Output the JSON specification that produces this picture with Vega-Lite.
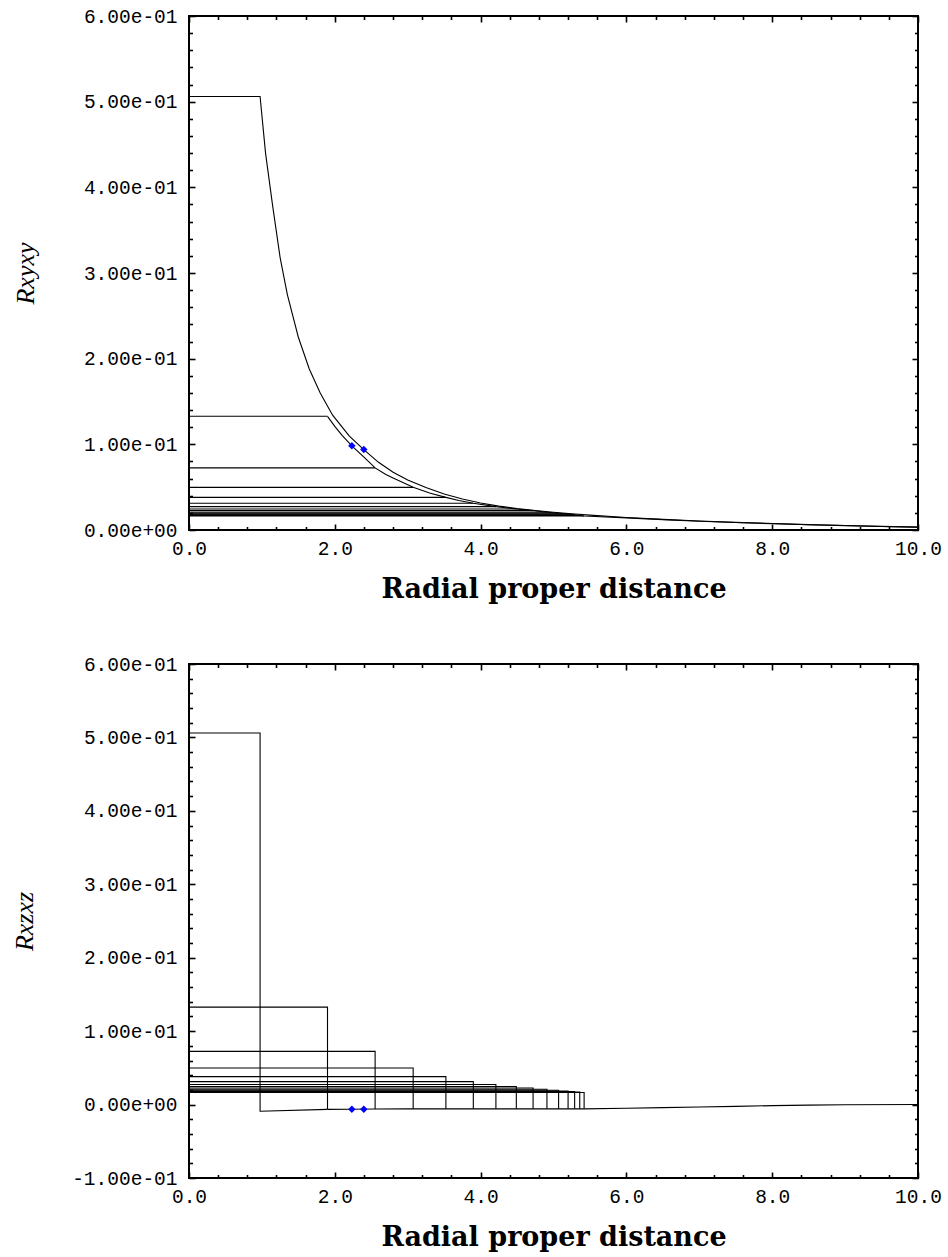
{
  "$schema": "https://vega.github.io/schema/vega-lite/v6.json",
  "background": "white",
  "padding": {"left": 10, "top": 5, "right": 5, "bottom": 5},
  "spacing": 50,
  "config": {
    "view": {"stroke": "black", "strokeWidth": 2},
    "axis": {"domain": false, "grid": false, "labelFont": "Liberation Mono", "labelFontSize": 19.5, "labelColor": "black", "labelFlush": false, "labelOverlap": false, "tickColor": "black", "tickWidth": 1.6, "titleColor": "black", "titleFont": "DejaVu Serif", "titleFontSize": 27, "titleFontWeight": "bold"},
    "axisY": {"titleFont": "Liberation Serif", "titleFontStyle": "italic", "titleFontWeight": "normal", "titleFontSize": 26}
  },
  "datasets": {
    "top": [
      {"s":"c1","x":0,"y":0.506},{"s":"c1","x":0.975,"y":0.506},{"s":"c1","x":1.05,"y":0.44},{"s":"c1","x":1.148,"y":0.378},{"s":"c1","x":1.25,"y":0.318},{"s":"c1","x":1.35,"y":0.2745},{"s":"c1","x":1.5,"y":0.225},{"s":"c1","x":1.65,"y":0.188},{"s":"c1","x":1.8,"y":0.16},{"s":"c1","x":1.97,"y":0.134},{"s":"c1","x":2.2,"y":0.1096},{"s":"c1","x":2.398,"y":0.0939},{"s":"c1","x":2.6,"y":0.079},{"s":"c1","x":2.8,"y":0.0675},{"s":"c1","x":3,"y":0.0585},{"s":"c1","x":3.25,"y":0.0495},{"s":"c1","x":3.5,"y":0.042},{"s":"c1","x":3.75,"y":0.0362},{"s":"c1","x":4,"y":0.0316},{"s":"c1","x":4.25,"y":0.0279},{"s":"c1","x":4.5,"y":0.025},{"s":"c1","x":4.75,"y":0.0228},{"s":"c1","x":5,"y":0.0208},{"s":"c1","x":5.25,"y":0.019},{"s":"c1","x":5.5,"y":0.0174},{"s":"c1","x":6,"y":0.0146},{"s":"c1","x":6.5,"y":0.0124},{"s":"c1","x":7,"y":0.0105},{"s":"c1","x":7.5,"y":0.0089},{"s":"c1","x":8,"y":0.0075},{"s":"c1","x":8.5,"y":0.0063},{"s":"c1","x":9,"y":0.0052},{"s":"c1","x":9.5,"y":0.0042},{"s":"c1","x":10,"y":0.0034},
      {"s":"c2","x":0,"y":0.1327},{"s":"c2","x":1.9,"y":0.1327},
      {"s":"c3","x":0,"y":0.0725},{"s":"c3","x":2.553,"y":0.0725},
      {"s":"c4","x":0,"y":0.0498},{"s":"c4","x":3.075,"y":0.0498},
      {"s":"c5","x":0,"y":0.0381},{"s":"c5","x":3.524,"y":0.0381},
      {"s":"c6","x":0,"y":0.0312},{"s":"c6","x":3.9,"y":0.0312},
      {"s":"c7","x":0,"y":0.0273},{"s":"c7","x":4.21,"y":0.0273},
      {"s":"c8","x":0,"y":0.0246},{"s":"c8","x":4.49,"y":0.0246},
      {"s":"c9","x":0,"y":0.0226},{"s":"c9","x":4.72,"y":0.0226},
      {"s":"c10","x":0,"y":0.0208},{"s":"c10","x":4.91,"y":0.0208},
      {"s":"c11","x":0,"y":0.0195},{"s":"c11","x":5.07,"y":0.0195},
      {"s":"c12","x":0,"y":0.0185},{"s":"c12","x":5.2,"y":0.0185},
      {"s":"c13","x":0,"y":0.0177},{"s":"c13","x":5.29,"y":0.0177},
      {"s":"c14","x":0,"y":0.017},{"s":"c14","x":5.36,"y":0.017},
      {"s":"c15","x":0,"y":0.0164},{"s":"c15","x":5.42,"y":0.0164},
      {"s":"h","x":1.9,"y":0.1327},{"s":"h","x":2,"y":0.121},{"s":"h","x":2.1,"y":0.1105},{"s":"h","x":2.234,"y":0.0983},{"s":"h","x":2.4,"y":0.085},{"s":"h","x":2.553,"y":0.0725},{"s":"h","x":2.7,"y":0.0648},{"s":"h","x":2.8,"y":0.0606},{"s":"h","x":3.075,"y":0.0498},{"s":"h","x":3.3,"y":0.0432},{"s":"h","x":3.524,"y":0.0381},{"s":"h","x":3.7,"y":0.0345},{"s":"h","x":3.9,"y":0.0312},{"s":"h","x":4.21,"y":0.0273},{"s":"h","x":4.49,"y":0.0246},{"s":"h","x":4.72,"y":0.0226},{"s":"h","x":4.91,"y":0.0208},{"s":"h","x":5.07,"y":0.0195},{"s":"h","x":5.2,"y":0.0185},{"s":"h","x":5.29,"y":0.0177},{"s":"h","x":5.36,"y":0.017},{"s":"h","x":5.42,"y":0.0164},{"s":"h","x":5.5,"y":0.016},{"s":"h","x":6,"y":0.0141},{"s":"h","x":6.5,"y":0.0121},{"s":"h","x":7,"y":0.0103},{"s":"h","x":7.5,"y":0.0088},{"s":"h","x":8,"y":0.0074},{"s":"h","x":8.5,"y":0.0062},{"s":"h","x":9,"y":0.0051},{"s":"h","x":9.5,"y":0.0041},{"s":"h","x":10,"y":0.0034}
    ],
    "topDots": [{"x":2.234,"y":0.0983},{"x":2.398,"y":0.0939}],
    "bottom": [
      {"s":"c1","i":0,"x":0,"y":0.506},{"s":"c1","i":1,"x":0.975,"y":0.506},{"s":"c1","i":2,"x":0.975,"y":-0.009},{"s":"c1","i":3,"x":1.9,"y":-0.0065},
      {"s":"c2","i":0,"x":0,"y":0.1327},{"s":"c2","i":1,"x":1.9,"y":0.1327},{"s":"c2","i":2,"x":1.9,"y":-0.0065},
      {"s":"c3","i":0,"x":0,"y":0.0725},{"s":"c3","i":1,"x":2.553,"y":0.0725},{"s":"c3","i":2,"x":2.553,"y":-0.006},
      {"s":"c4","i":0,"x":0,"y":0.0498},{"s":"c4","i":1,"x":3.075,"y":0.0498},{"s":"c4","i":2,"x":3.075,"y":-0.0059},
      {"s":"c5","i":0,"x":0,"y":0.0381},{"s":"c5","i":1,"x":3.524,"y":0.0381},{"s":"c5","i":2,"x":3.524,"y":-0.0059},
      {"s":"c6","i":0,"x":0,"y":0.0312},{"s":"c6","i":1,"x":3.9,"y":0.0312},{"s":"c6","i":2,"x":3.9,"y":-0.0058},
      {"s":"c7","i":0,"x":0,"y":0.0273},{"s":"c7","i":1,"x":4.21,"y":0.0273},{"s":"c7","i":2,"x":4.21,"y":-0.0058},
      {"s":"c8","i":0,"x":0,"y":0.0246},{"s":"c8","i":1,"x":4.49,"y":0.0246},{"s":"c8","i":2,"x":4.49,"y":-0.0058},
      {"s":"c9","i":0,"x":0,"y":0.0226},{"s":"c9","i":1,"x":4.72,"y":0.0226},{"s":"c9","i":2,"x":4.72,"y":-0.0058},
      {"s":"c10","i":0,"x":0,"y":0.0208},{"s":"c10","i":1,"x":4.91,"y":0.0208},{"s":"c10","i":2,"x":4.91,"y":-0.0058},
      {"s":"c11","i":0,"x":0,"y":0.0195},{"s":"c11","i":1,"x":5.07,"y":0.0195},{"s":"c11","i":2,"x":5.07,"y":-0.0058},
      {"s":"c12","i":0,"x":0,"y":0.0185},{"s":"c12","i":1,"x":5.2,"y":0.0185},{"s":"c12","i":2,"x":5.2,"y":-0.0058},
      {"s":"c13","i":0,"x":0,"y":0.0177},{"s":"c13","i":1,"x":5.29,"y":0.0177},{"s":"c13","i":2,"x":5.29,"y":-0.0058},
      {"s":"c14","i":0,"x":0,"y":0.017},{"s":"c14","i":1,"x":5.36,"y":0.017},{"s":"c14","i":2,"x":5.36,"y":-0.0058},
      {"s":"c15","i":0,"x":0,"y":0.0164},{"s":"c15","i":1,"x":5.42,"y":0.0164},{"s":"c15","i":2,"x":5.42,"y":-0.0058},
      {"s":"g","i":0,"x":1.9,"y":-0.0065},{"s":"g","i":1,"x":2.2,"y":-0.0063},{"s":"g","i":2,"x":2.553,"y":-0.006},{"s":"g","i":3,"x":3,"y":-0.0059},{"s":"g","i":4,"x":4,"y":-0.0058},{"s":"g","i":5,"x":5,"y":-0.0058},{"s":"g","i":6,"x":5.42,"y":-0.0058},{"s":"g","i":7,"x":6,"y":-0.005},{"s":"g","i":8,"x":6.5,"y":-0.0042},{"s":"g","i":9,"x":7,"y":-0.0033},{"s":"g","i":10,"x":7.5,"y":-0.0024},{"s":"g","i":11,"x":8,"y":-0.0015},{"s":"g","i":12,"x":8.5,"y":-0.0007},{"s":"g","i":13,"x":9,"y":-0.0003},{"s":"g","i":14,"x":10,"y":0}
    ],
    "bottomDots": [{"x":2.234,"y":-0.0063},{"x":2.398,"y":-0.0063}]
  },
  "vconcat": [
    {
      "width": 729, "height": 514,
      "layer": [
        {
          "data": {"name": "top"},
          "mark": {"type": "line", "color": "black", "strokeWidth": 1.1, "clip": true},
          "encoding": {
            "x": {"field": "x", "type": "quantitative", "scale": {"domain": [0, 10], "nice": false, "zero": false},
              "axis": {"orient": "bottom", "values": [0,0.4,0.8,1.2,1.6,2,2.4,2.8,3.2,3.6,4,4.4,4.8,5.2,5.6,6,6.4,6.8,7.2,7.6,8,8.4,8.8,9.2,9.6,10],
                "labelExpr": "abs(datum.value/2 - round(datum.value/2)) < 1e-6 ? format(datum.value, '.1f') : ''",
                "tickSize": {"condition": {"test": "abs(datum.value/2 - round(datum.value/2)) < 1e-6", "value": -6}, "value": -3.5},
                "labelPadding": 15, "title": "Radial proper distance", "titlePadding": 16}},
            "y": {"field": "y", "type": "quantitative", "scale": {"domain": [0, 0.6], "nice": false, "zero": false},
              "axis": {"orient": "left", "values": [0,0.02,0.04,0.06,0.08,0.1,0.12,0.14,0.16,0.18,0.2,0.22,0.24,0.26,0.28,0.3,0.32,0.34,0.36,0.38,0.4,0.42,0.44,0.46,0.48,0.5,0.52,0.54,0.56,0.58,0.6],
                "labelExpr": "abs(datum.value*10 - round(datum.value*10)) < 1e-6 ? (abs(datum.value) < 1e-9 ? '0.00e+00' : (datum.value < 0 ? '-' : '') + format(abs(datum.value)*10, '.2f') + 'e-01') : ''",
                "tickSize": {"condition": {"test": "abs(datum.value*10 - round(datum.value*10)) < 1e-6", "value": -6}, "value": -3.5},
                "labelPadding": 18, "title": "Rxyxy", "titlePadding": 45}},
            "detail": {"field": "s"}
          }
        },
        {
          "data": {"name": "topDots"},
          "mark": {"type": "point", "shape": "diamond", "filled": true, "color": "#0000ff", "size": 55, "opacity": 1},
          "encoding": {
            "x": {"field": "x", "type": "quantitative",
              "axis": {"orient": "top", "values": [0,0.4,0.8,1.2,1.6,2,2.4,2.8,3.2,3.6,4,4.4,4.8,5.2,5.6,6,6.4,6.8,7.2,7.6,8,8.4,8.8,9.2,9.6,10], "labels": false, "title": null,
                "tickSize": {"condition": {"test": "abs(datum.value/2 - round(datum.value/2)) < 1e-6", "value": -6}, "value": -3.5}}},
            "y": {"field": "y", "type": "quantitative",
              "axis": {"orient": "right", "values": [0,0.02,0.04,0.06,0.08,0.1,0.12,0.14,0.16,0.18,0.2,0.22,0.24,0.26,0.28,0.3,0.32,0.34,0.36,0.38,0.4,0.42,0.44,0.46,0.48,0.5,0.52,0.54,0.56,0.58,0.6], "labels": false, "title": null,
                "tickSize": {"condition": {"test": "abs(datum.value*10 - round(datum.value*10)) < 1e-6", "value": -6}, "value": -3.5}}}
          }
        }
      ],
      "resolve": {"axis": {"x": "independent", "y": "independent"}}
    },
    {
      "width": 729, "height": 514,
      "layer": [
        {
          "data": {"name": "bottom"},
          "mark": {"type": "line", "color": "black", "strokeWidth": 1.1, "clip": true},
          "encoding": {
            "x": {"field": "x", "type": "quantitative", "scale": {"domain": [0, 10], "nice": false, "zero": false},
              "axis": {"orient": "bottom", "values": [0,0.4,0.8,1.2,1.6,2,2.4,2.8,3.2,3.6,4,4.4,4.8,5.2,5.6,6,6.4,6.8,7.2,7.6,8,8.4,8.8,9.2,9.6,10],
                "labelExpr": "abs(datum.value/2 - round(datum.value/2)) < 1e-6 ? format(datum.value, '.1f') : ''",
                "tickSize": {"condition": {"test": "abs(datum.value/2 - round(datum.value/2)) < 1e-6", "value": -6}, "value": -3.5},
                "labelPadding": 15, "title": "Radial proper distance", "titlePadding": 16}},
            "y": {"field": "y", "type": "quantitative", "scale": {"domain": [-0.1, 0.6], "nice": false, "zero": false},
              "axis": {"orient": "left", "values": [-0.1,-0.08,-0.06,-0.04,-0.02,0,0.02,0.04,0.06,0.08,0.1,0.12,0.14,0.16,0.18,0.2,0.22,0.24,0.26,0.28,0.3,0.32,0.34,0.36,0.38,0.4,0.42,0.44,0.46,0.48,0.5,0.52,0.54,0.56,0.58,0.6],
                "labelExpr": "abs(datum.value*10 - round(datum.value*10)) < 1e-6 ? (abs(datum.value) < 1e-9 ? '0.00e+00' : (datum.value < 0 ? '-' : '') + format(abs(datum.value)*10, '.2f') + 'e-01') : ''",
                "tickSize": {"condition": {"test": "abs(datum.value*10 - round(datum.value*10)) < 1e-6", "value": -6}, "value": -3.5},
                "labelPadding": 18, "title": "Rxzxz", "titlePadding": 34}},
            "detail": {"field": "s"},
            "order": {"field": "i", "type": "quantitative"}
          }
        },
        {
          "data": {"name": "bottomDots"},
          "mark": {"type": "point", "shape": "diamond", "filled": true, "color": "#0000ff", "size": 55, "opacity": 1},
          "encoding": {
            "x": {"field": "x", "type": "quantitative",
              "axis": {"orient": "top", "values": [0,0.4,0.8,1.2,1.6,2,2.4,2.8,3.2,3.6,4,4.4,4.8,5.2,5.6,6,6.4,6.8,7.2,7.6,8,8.4,8.8,9.2,9.6,10], "labels": false, "title": null,
                "tickSize": {"condition": {"test": "abs(datum.value/2 - round(datum.value/2)) < 1e-6", "value": -6}, "value": -3.5}}},
            "y": {"field": "y", "type": "quantitative",
              "axis": {"orient": "right", "values": [-0.1,-0.08,-0.06,-0.04,-0.02,0,0.02,0.04,0.06,0.08,0.1,0.12,0.14,0.16,0.18,0.2,0.22,0.24,0.26,0.28,0.3,0.32,0.34,0.36,0.38,0.4,0.42,0.44,0.46,0.48,0.5,0.52,0.54,0.56,0.58,0.6], "labels": false, "title": null,
                "tickSize": {"condition": {"test": "abs(datum.value*10 - round(datum.value*10)) < 1e-6", "value": -6}, "value": -3.5}}}
          }
        }
      ],
      "resolve": {"axis": {"x": "independent", "y": "independent"}}
    }
  ]
}
